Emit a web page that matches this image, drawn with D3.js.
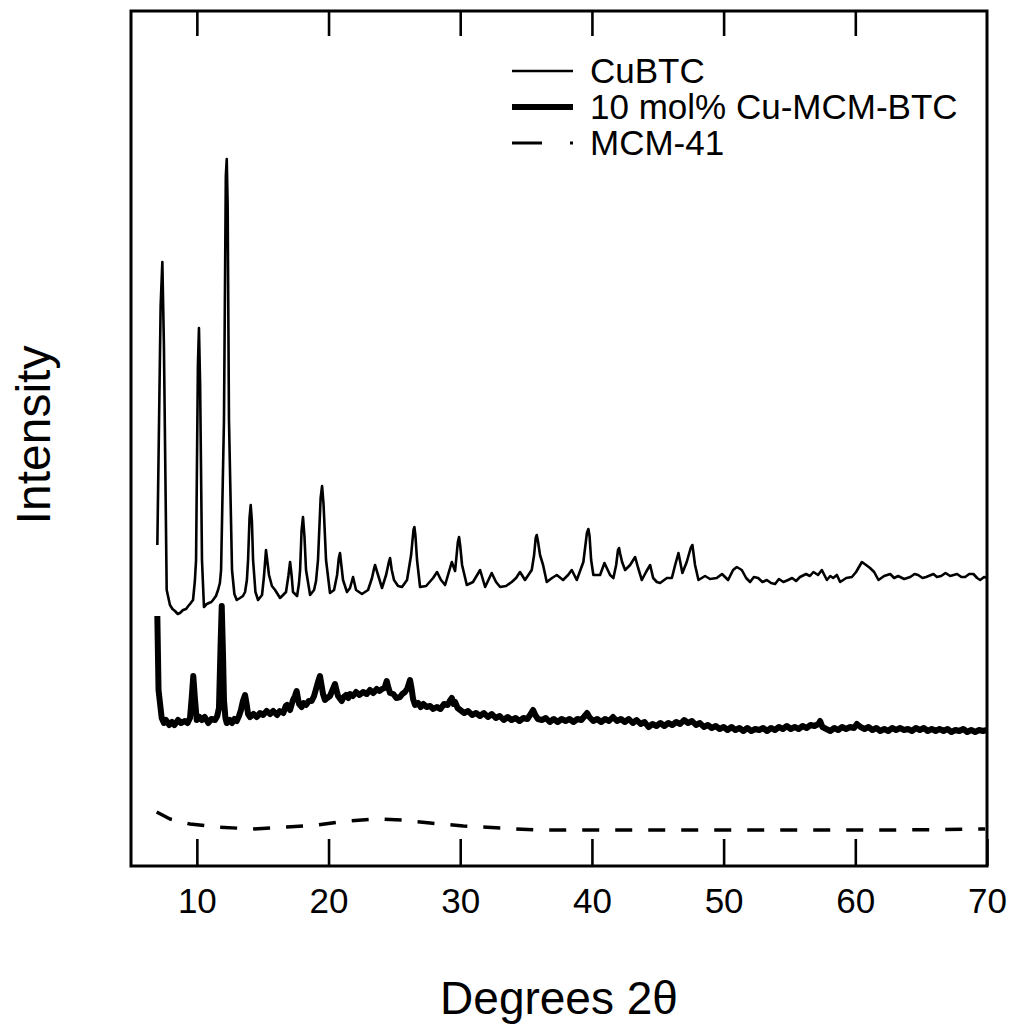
<!DOCTYPE html>
<html>
<head>
<meta charset="utf-8">
<script src="https://cdn.jsdelivr.net/npm/d3@7"></script>
<style>
  html, body { margin: 0; padding: 0; background: #fff; }
  svg { display: block; font-family: "Liberation Sans", Arial, sans-serif; }
</style>
</head>
<body>
<svg id="chart" width="1011" height="1027"></svg>
<script>
// Powder XRD patterns, stacked with vertical offsets (arbitrary intensity units).
const xTicks = [10, 20, 30, 40, 50, 60, 70];
const seriesNames = ["CuBTC", "10 mol% Cu-MCM-BTC", "MCM-41"];

// CuBTC: [2θ, intensity]
const cubtc = [
  [7.00,321],[7.25,560],[7.38,604],[7.50,520],[7.71,276],[7.96,261],[8.15,257],[8.34,255],[8.55,252],
  [8.72,253],[8.95,256],[9.18,257],[9.35,260],[9.48,262],[9.71,266],[9.85,285],
  [9.94,306],[10.08,500],[10.16,538],[10.25,480],[10.39,306],[10.54,259],[10.75,262],[10.92,263],
  [11.10,264],[11.23,266],[11.45,270],[11.61,276],[11.75,283],[11.84,296],
  [12.06,446],[12.20,690],[12.27,707],[12.34,660],[12.44,446],[12.67,296],[12.85,272],[13.03,266],
  [13.28,268],[13.50,270],[13.66,274],[13.80,286],[13.89,306],[14.00,348],
  [14.09,361],[14.18,345],[14.27,306],[14.45,274],[14.65,266],[14.95,271],[15.10,290],[15.25,316],
  [15.35,305],[15.48,291],[15.70,280],[15.94,276],[16.32,268],[16.55,271],
  [16.77,274],[16.95,290],[17.08,304],[17.20,290],[17.30,274],[17.61,270],[17.75,282],[17.84,296],
  [17.95,335],[18.06,349],[18.17,330],[18.29,296],[18.60,271],
  [18.90,276],[19.05,285],[19.20,306],[19.40,368],[19.51,380],[19.62,362],[19.81,306],[20.11,273],
  [20.42,276],[20.65,291],[20.78,308],[20.87,313],
  [20.98,300],[21.10,286],[21.40,274],[21.63,278],[21.86,289],[22.09,276],[22.54,272],[23.00,276],
  [23.30,288],[23.45,297],
  [23.53,301],[23.76,291],[24.06,278],[24.37,291],[24.58,304],[24.67,308],[24.80,296],[24.97,286],
  [25.28,280],[25.58,279],
  [25.96,286],[26.27,311],[26.45,336],[26.52,339],[26.60,330],[26.72,306],[26.95,279],[27.41,280],
  [27.94,288],[28.24,294],
  [28.54,286],[28.85,281],[29.36,304],[29.61,295],[29.82,324],[29.91,329],[30.00,320],[30.14,301],
  [30.50,281],[30.97,284],
  [31.51,296],[31.89,279],[32.39,293],[32.72,284],[33.03,279],[33.48,280],[33.91,284],[34.24,288],
  [34.54,294],[34.92,286],[35.43,296],[35.61,311],[35.73,328],[35.81,331],[35.90,325],[36.06,311],
  [36.29,301],[36.57,284],
  [36.97,288],[37.33,291],[37.81,286],[38.19,291],[38.47,296],[38.85,286],[39.35,304],[39.62,333],
  [39.73,337],[39.82,330],
  [39.94,306],[40.11,291],[40.62,291],[40.95,303],[41.38,291],[41.63,288],[41.84,301],[41.98,316],
  [42.06,318],[42.15,312],
  [42.29,304],[42.52,296],[42.90,301],[43.28,309],[43.51,298],[43.79,286],[44.11,294],[44.42,301],
  [44.65,288],[44.93,284],[45.18,283],[45.69,288],[46.07,288],[46.32,301],[46.57,313],[46.87,293],
  [47.20,304],[47.50,318],[47.63,321],[47.83,301],[48.09,286],[48.59,290],[48.97,287],[49.48,288],
  [49.88,292],
  [50.34,286],[50.72,296],[51.00,299],[51.38,296],[51.71,288],[52.01,284],[52.30,289],[52.62,288],
  [52.95,284],[53.28,286],
  [53.60,283],[53.91,282],[54.20,287],[54.54,284],[54.90,286],[55.20,288],[55.50,285],[55.80,289],
  [56.26,292],[56.55,290],[56.82,294],[57.17,291],[57.46,296],
  [57.84,286],[58.10,290],[58.32,288],[58.60,291],[58.85,284],[59.31,288],[59.74,289],[60.06,294],
  [60.50,304],[60.82,301],
  [61.12,298],[61.43,294],[61.76,286],[62.19,290],[62.65,292],[62.95,288],[63.25,290],[63.71,287],
  [64.17,289],[64.50,292],
  [64.77,291],[65.10,288],[65.38,289],[65.93,292],[66.20,289],[66.52,290],[66.85,293],[67.20,290],
  [67.73,292],[68.05,289],[68.34,289],[68.65,292],[68.97,292],
  [69.25,288],[69.48,286],[69.78,289],[70.00,288]
];

// 10 mol% Cu-MCM-BTC: [2θ, intensity]
const cuMcmBtc = [
  [7.00,250],[7.09,176],[7.33,148],[7.50,143],[7.66,146],[7.90,141],[8.11,144],[8.30,141],[8.57,146],
  [8.80,143],[9.10,145],[9.30,143],[9.48,148],[9.62,170],[9.73,190],[9.85,168],[9.99,146],[10.20,149],
  [10.37,146],[10.60,149],[10.87,143],[11.10,147],[11.38,146],[11.55,150],[11.68,158],[11.80,220],
  [11.89,260],[11.98,215],[12.06,166],[12.17,148],[12.27,143],[12.50,146],[12.67,143],[12.85,147],
  [13.03,145],[13.20,150],[13.35,156],[13.50,165],[13.66,171],[13.78,162],[13.89,152],[14.04,149],
  [14.30,152],[14.55,149],[14.80,153],[15.03,151],[15.30,155],[15.56,152],[15.80,155],[16.09,151],
  [16.30,155],[16.57,153],[16.75,160],[16.85,161],[17.08,156],[17.30,166],[17.45,170],[17.58,175],
  [17.70,166],[17.76,162],[17.96,159],[18.10,163],[18.29,161],[18.50,165],[18.72,165],[18.90,170],
  [19.05,177],[19.20,184],[19.35,190],[19.48,180],[19.58,172],[19.73,166],[19.90,168],[20.11,170],
  [20.30,176],[20.49,182],[20.60,176],[20.72,170],[21.00,165],[21.15,169],[21.33,171],[21.50,168],
  [21.63,172],[21.85,170],[22.09,174],[22.35,171],[22.62,174],[22.90,172],[23.15,176],[23.40,173],
  [23.66,177],[23.85,175],[24.06,177],[24.25,178],[24.42,185],[24.55,178],[24.67,173],[24.92,172],
  [25.15,168],[25.43,169],[25.60,172],[25.81,174],[26.00,178],[26.19,186],[26.30,178],[26.42,167],
  [26.57,161],[26.80,163],[27.00,159],[27.20,162],[27.45,159],[27.71,160],[27.95,157],[28.22,159],
  [28.50,157],[28.77,162],[29.05,161],[29.20,165],[29.36,168],[29.50,162],[29.61,164],[29.80,158],
  [30.00,156],[30.30,153],[30.60,155],[30.90,151],[31.20,153],[31.50,150],[31.80,153],[32.10,149],
  [32.40,152],[32.70,148],[33.00,150],[33.30,146],[33.60,149],[33.90,146],[34.20,148],[34.50,145],
  [34.80,148],[35.10,147],[35.30,151],[35.53,156],[35.70,151],[35.90,147],[36.20,146],[36.50,148],
  [36.80,144],[37.10,147],[37.40,144],[37.70,147],[38.00,145],[38.30,147],[38.60,144],[38.90,147],
  [39.20,146],[39.45,150],[39.63,153],[39.80,149],[40.10,145],[40.40,147],[40.70,144],[41.00,147],
  [41.30,145],[41.60,149],[41.90,145],[42.20,147],[42.50,144],[42.80,147],[43.10,143],[43.40,146],
  [43.70,142],[44.00,144],[44.30,139],[44.60,142],[44.90,140],[45.20,143],[45.50,140],[45.80,143],
  [46.10,141],[46.40,144],[46.70,142],[47.00,146],[47.30,143],[47.60,145],[47.90,141],[48.20,143],
  [48.50,139],[48.80,141],[49.10,138],[49.40,140],[49.70,137],[50.00,139],[50.30,136],[50.60,139],
  [50.90,136],[51.20,138],[51.50,135],[51.80,138],[52.10,135],[52.40,137],[52.70,136],[53.00,138],
  [53.30,135],[53.60,138],[53.90,136],[54.20,139],[54.50,137],[54.80,140],[55.10,137],[55.40,139],
  [55.70,137],[56.00,140],[56.30,138],[56.60,141],[56.90,140],[57.20,142],[57.33,145],[57.50,139],
  [57.80,137],[58.10,135],[58.40,138],[58.70,136],[59.00,139],[59.30,137],[59.60,139],[59.90,138],
  [60.12,142],[60.40,139],[60.70,137],[61.00,139],[61.30,136],[61.60,138],[61.90,135],[62.20,137],
  [62.50,135],[62.80,138],[63.10,136],[63.40,138],[63.70,136],[64.00,137],[64.30,135],[64.60,138],
  [64.90,136],[65.20,138],[65.50,135],[65.80,137],[66.10,135],[66.40,137],[66.70,135],[67.00,137],
  [67.30,134],[67.60,136],[67.90,135],[68.20,137],[68.50,134],[68.80,136],[69.10,134],[69.40,136],
  [69.70,135],[70.00,136]
];

// MCM-41: [2θ, intensity]
const mcm41 = [
  [6.95,54],[7.96,47],[9.48,42],[11.51,39],[14.27,37],[16.83,39],[19.10,41],[21.38,45],[23.53,47],
  [25.56,46],[27.71,43],[30.24,40],[33.03,38],[35.81,36],[38.34,36],[41.38,36],[48.22,36],[55.80,36],
  [63.40,36],[69.86,37]
];

const svg = d3.select("#chart");
const plot = { left: 131, right: 987, top: 11, bottom: 866 };

const x = d3.scaleLinear().domain([5, 70]).range([plot.left, plot.right]);
const y = d3.scaleLinear().domain([0, 855]).range([plot.bottom, plot.top]);

const line = d3.line().x(d => x(d[0])).y(d => y(d[1]));

const styles = [
  { data: cubtc, width: 2.6, dash: null, legendDash: null, legendWidth: 2.6 },
  { data: cuMcmBtc, width: 6, dash: null, legendDash: null, legendWidth: 6 },
  { data: mcm41, width: 3.5, dash: "17,16", legendDash: "30,28", legendWidth: 3 }
];

// traces
styles.forEach(s => {
  svg.append("path")
    .datum(s.data)
    .attr("d", line)
    .attr("fill", "none")
    .attr("stroke", "#000")
    .attr("stroke-width", s.width)
    .attr("stroke-linejoin", "round")
    .attr("stroke-dasharray", s.dash);
});

// frame
svg.append("rect")
  .attr("x", plot.left).attr("y", plot.top)
  .attr("width", plot.right - plot.left).attr("height", plot.bottom - plot.top)
  .attr("fill", "none").attr("stroke", "#000").attr("stroke-width", 3);

// bottom axis with inward ticks
const gBottom = svg.append("g")
  .attr("transform", `translate(0,${plot.bottom})`)
  .call(d3.axisBottom(x).tickValues(xTicks).tickSizeInner(-27).tickSizeOuter(0).tickPadding(22));
gBottom.select(".domain").remove();
gBottom.selectAll(".tick line").attr("stroke", "#000").attr("stroke-width", 2.6);
gBottom.selectAll(".tick text")
  .attr("fill", "#000")
  .style("font-size", "35px")
  .style("font-family", "'Liberation Sans', Arial, sans-serif");

// top axis with inward ticks, no labels
const gTop = svg.append("g")
  .attr("transform", `translate(0,${plot.top})`)
  .call(d3.axisTop(x).tickValues(xTicks.slice(0, -1)).tickSizeInner(-25).tickSizeOuter(0).tickFormat(""));
gTop.select(".domain").remove();
gTop.selectAll(".tick line").attr("stroke", "#000").attr("stroke-width", 2.6);

// axis titles
svg.append("text")
  .attr("transform", "translate(50,435) rotate(-90)")
  .attr("text-anchor", "middle")
  .style("font-size", "48px")
  .text("Intensity");

svg.append("text")
  .attr("x", 559).attr("y", 1014)
  .attr("text-anchor", "middle")
  .style("font-size", "46px")
  .text("Degrees 2θ");

// legend
const legend = svg.append("g").attr("transform", "translate(512,71)");
seriesNames.forEach((name, i) => {
  const row = legend.append("g").attr("transform", `translate(0,${i * 36})`);
  row.append("line")
    .attr("x1", 0).attr("x2", 61).attr("y1", 0).attr("y2", 0)
    .attr("stroke", "#000")
    .attr("stroke-width", styles[i].legendWidth)
    .attr("stroke-dasharray", styles[i].legendDash);
  row.append("text")
    .attr("x", 78).attr("y", 12)
    .style("font-size", "35px")
    .text(name);
});
</script>
</body>
</html>
